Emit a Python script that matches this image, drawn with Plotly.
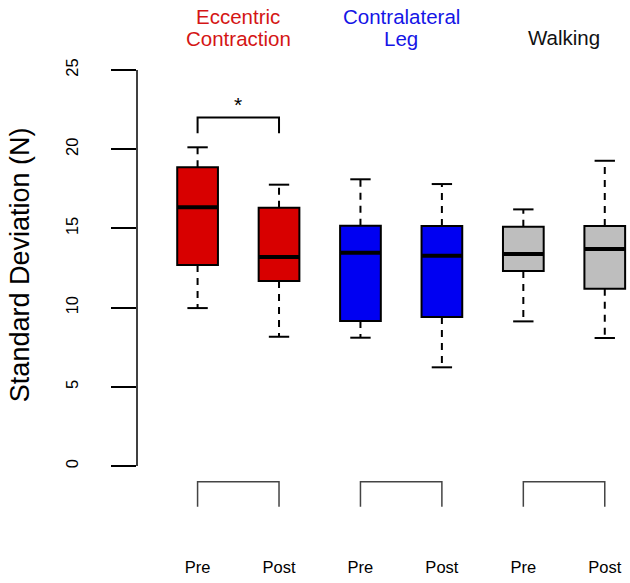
import plotly.graph_objects as go

# ---- data ----
group_lines = [["Eccentric", "Contraction"], ["Contralateral", "Leg"], ["Walking"]]
group_colors_text = ["#D41515", "#1515E6", "#111111"]
conditions = ["Pre", "Post", "Pre", "Post", "Pre", "Post"]
positions = [1, 2, 3, 4, 5, 6]
lower_whisker = [9.97, 8.16, 8.10, 6.23, 9.13, 8.08]
q1 = [12.69, 11.68, 9.15, 9.41, 12.31, 11.19]
median = [16.33, 13.19, 13.47, 13.28, 13.38, 13.70]
q3 = [18.86, 16.31, 15.17, 15.15, 15.11, 15.15]
upper_whisker = [20.12, 17.76, 18.10, 17.80, 16.20, 19.27]
fill_colors = ["#D80000", "#D80000", "#0000F2", "#0000F2", "#BEBEBE", "#BEBEBE"]
y_ticks = [0, 5, 10, 15, 20, 25]

FONT = "Liberation Sans, Arial, Helvetica, sans-serif"
BOX_W = 0.5
CAP_W = 0.25

fig = go.Figure()

for p, a, b, c, col in zip(positions, q1, median, q3, fill_colors):
    fig.add_trace(go.Box(
        x=[p], q1=[a], median=[b], q3=[c], lowerfence=[a], upperfence=[c],
        width=BOX_W, whiskerwidth=0, fillcolor=col,
        line=dict(color="black", width=2), boxpoints=False,
        showlegend=False, hoverinfo="skip",
    ))

# dashed whiskers
wx, wy = [], []
for p, lo, a, c, hi in zip(positions, lower_whisker, q1, q3, upper_whisker):
    wx += [p, p, None, p, p, None]
    wy += [c, hi, None, a, lo, None]
fig.add_trace(go.Scatter(x=wx, y=wy, mode="lines",
                         line=dict(color="black", width=2, dash="7px,6px"),
                         showlegend=False, hoverinfo="skip"))

# whisker caps
cx, cy = [], []
for p, lo, hi in zip(positions, lower_whisker, upper_whisker):
    cx += [p - CAP_W / 2, p + CAP_W / 2, None, p - CAP_W / 2, p + CAP_W / 2, None]
    cy += [hi, hi, None, lo, lo, None]
fig.add_trace(go.Scatter(x=cx, y=cy, mode="lines",
                         line=dict(color="black", width=2),
                         showlegend=False, hoverinfo="skip"))

# medians (thick)
mx, my = [], []
for p, m in zip(positions, median):
    mx += [p - BOX_W / 2, p + BOX_W / 2, None]
    my += [m, m, None]
fig.add_trace(go.Scatter(x=mx, y=my, mode="lines",
                         line=dict(color="black", width=4),
                         showlegend=False, hoverinfo="skip"))

# significance bracket (Eccentric pre vs post)
fig.add_trace(go.Scatter(x=[1, 1, 2, 2], y=[21.0, 22.0, 22.0, 21.0], mode="lines",
                         line=dict(color="black", width=2),
                         showlegend=False, hoverinfo="skip"))

# bottom pairing brackets
bx, by = [], []
for g in range(3):
    a, b = positions[2 * g], positions[2 * g + 1]
    bx += [a, a, b, b, None]
    by += [-2.57, -0.99, -0.99, -2.57, None]
fig.add_trace(go.Scatter(x=bx, y=by, mode="lines",
                         line=dict(color="#444444", width=1.5),
                         showlegend=False, hoverinfo="skip"))

annotations = [
    dict(x=1.5, y=22.85, xref="x", yref="y", text="*", showarrow=False,
         font=dict(family=FONT, size=21, color="black")),
    dict(x=-0.2373, y=0.574, xref="paper", yref="paper", text="Standard Deviation (N)",
         textangle=-90, showarrow=False, xanchor="center", yanchor="middle",
         font=dict(family=FONT, size=27, color="black")),
]
line_y = {1: [1.0238], 2: [1.0673, 1.0228]}
for g, (lines, col) in enumerate(zip(group_lines, group_colors_text)):
    for txt, yy in zip(lines, line_y[len(lines)]):
        annotations.append(dict(
            x=(positions[2 * g] + positions[2 * g + 1]) / 2, y=yy, xref="x", yref="paper",
            text=txt, showarrow=False, yanchor="middle", xanchor="center",
            font=dict(family=FONT, size=20.5, color=col)))

# axis line from 0 to 25 only
shapes = [dict(type="line", xref="paper", yref="y", x0=0, x1=0, y0=y_ticks[0], y1=y_ticks[-1],
               line=dict(color="black", width=1.5))]

fig.update_layout(
    width=630, height=583,
    margin=dict(l=137, r=0, t=50, b=28, autoexpand=False),
    paper_bgcolor="white", plot_bgcolor="white",
    boxmode="overlay",
    showlegend=False,
    annotations=annotations,
    shapes=shapes,
    xaxis=dict(range=[0.2561, 6.3098], tickvals=positions, ticktext=conditions,
               showgrid=False, zeroline=False, showline=False, ticks="",
               automargin=False,
               tickfont=dict(family=FONT, size=16.5, color="black")),
    yaxis=dict(range=[-5.619, 26.263], tickvals=y_ticks, ticktext=[str(v) for v in y_ticks],
               showgrid=False, zeroline=False, showline=False,
               ticks="outside", ticklen=25, tickwidth=1.5, tickcolor="black",
               tickangle=-90, ticklabelstandoff=26, automargin=False,
               tickfont=dict(family=FONT, size=16.5, color="black")),
)

# remove the browser's default 8px body margin so the 630x583 figure fills the window
fig.write_html("out.html", config={"displayModeBar": False},
               post_script="document.body.style.margin='0';")
